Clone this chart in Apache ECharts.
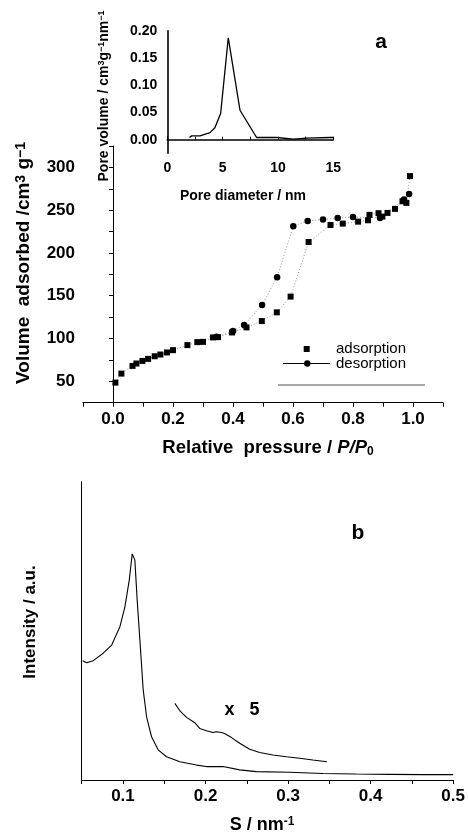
<!DOCTYPE html>
<html>
<head>
<meta charset="utf-8">
<script src="https://cdn.jsdelivr.net/npm/echarts@6/dist/echarts.min.js"></script>
<style>
html,body{margin:0;padding:0;background:#fff;}
#c{width:468px;height:836px;}
</style>
</head>
<body>
<div id="c"></div>
<script>
// Panel a: N2 isotherm
const adsP = [0.008,0.028,0.065,0.078,0.098,0.117,0.139,0.158,0.18,0.2,0.248,0.281,0.3,0.333,0.35,0.397,0.445,0.496,0.546,0.592,0.652,0.725,0.766,0.817,0.85,0.855,0.885,0.898,0.915,0.94,0.965,0.978,0.99];
const adsV = [48.5,59,68,70.8,73.8,76.2,79.3,81.3,83.7,86.4,92.3,95.8,96.1,101.3,101.6,107.1,113,120.4,130.6,149,212.8,232.7,234.3,236.6,238.2,244.5,246.5,242.5,246.8,251.5,260.4,258.5,289.8];
const desP = [0.345,0.4,0.437,0.497,0.547,0.601,0.649,0.7,0.749,0.8,0.89,0.97,0.987];
const desV = [102,108.7,115.7,139.3,171.7,231.3,237.4,239,240.8,242,241,262.4,268.8];
// Inset: pore size distribution
const poreD = [2.0,2.2,2.95,3.86,4.3,4.82,5.51,6.57,8.07,8.97,9.88,11.4,12.6,14.7,15.0];
const poreV = [0.004,0.007,0.007,0.013,0.022,0.048,0.187,0.054,0.004,0.004,0.004,0.001,0.003,0.004,0.004];
// Panel b: SAXS
const sMain = [0.0512,0.056,0.064,0.076,0.0863,0.0882,0.0963,0.1024,0.1076,0.1112,0.1144,0.1172,0.1205,0.1245,0.1286,0.1346,0.1426,0.1528,0.1689,0.189,0.2011,0.2212,0.2414,0.2616,0.3019,0.3422,0.3825,0.4228,0.4631,0.5];
const iMain = [40.0,39.3,40.0,42.5,45.2,46.4,51.4,58.1,67.0,75.8,73.7,60.3,46.9,30.2,21.2,14.5,10.1,7.8,6.1,5.0,4.5,4.5,3.4,2.8,2.6,2.2,2.0,1.9,1.8,1.8];
const sX5 = [0.1628,0.169,0.177,0.187,0.193,0.201,0.209,0.213,0.2193,0.223,0.231,0.2414,0.2535,0.2656,0.2817,0.2979,0.314,0.33,0.347];
const iX5 = [25.7,23.2,21.0,19.2,17.3,16.5,15.9,16.2,15.9,15.6,14.3,12.3,10.3,9.2,8.4,7.8,7.3,6.7,6.1];

const zip = (a,b) => a.map((v,i)=>[v,b[i]]);
const FF = '"Liberation Sans", Arial, sans-serif';
const axisLabelStyle = (size) => ({color:'#000', fontFamily:FF, fontWeight:'bold', fontSize:size});

const chart = echarts.init(document.getElementById('c'), null, {renderer:'canvas'});
chart.setOption({
  animation:false,
  backgroundColor:'#fff',
  grid:[
    {left:83, top:146, width:360, height:256.7},
    {left:167.3, top:30.7, width:166, height:122.6},
    {left:81.7, top:481.7, width:372.6, height:298.3}
  ],
  xAxis:[
    {gridIndex:0, type:'value', min:-0.1, max:1.1, interval:0.1,
     axisLine:{lineStyle:{color:'#000', width:1}}, axisTick:{inside:false, length:4, lineStyle:{color:'#000'}},
     splitLine:{show:false},
     axisLabel:Object.assign({margin:8, formatter:(v)=>{const k=Math.round(v*10);return (k>=0&&k<=10&&k%2===0)?(k/10).toFixed(1):'';}}, axisLabelStyle(17))},
    {gridIndex:1, type:'value', min:0, max:15, interval:2.5,
     axisLine:{lineStyle:{color:'#000', width:1.6}}, axisTick:{inside:true, length:3, lineStyle:{color:'#000'}},
     splitLine:{show:false},
     axisLabel:Object.assign({margin:8, formatter:(v)=>{const k=Math.round(v*10);return (k%50===0)?String(k/10):'';}}, axisLabelStyle(14))},
    {gridIndex:2, type:'value', min:0.05, max:0.5, interval:0.05,
     axisLine:{lineStyle:{color:'#000', width:1}}, axisTick:{inside:false, length:4, lineStyle:{color:'#000'}},
     splitLine:{show:false},
     axisLabel:Object.assign({margin:8, formatter:(v)=>{const k=Math.round(v*100);return (k%10===0)?(k/100).toFixed(1):'';}}, axisLabelStyle(17))}
  ],
  yAxis:[
    {gridIndex:0, type:'value', min:25, max:325, interval:25,
     axisLine:{show:true, lineStyle:{color:'#000', width:1}}, axisTick:{show:true, inside:false, length:4, lineStyle:{color:'#000'}},
     splitLine:{show:false},
     axisLabel:Object.assign({margin:8, formatter:(v)=>{const k=Math.round(v);return (k%50===0)?String(k):'';}}, axisLabelStyle(17))},
    {gridIndex:1, type:'value', min:-0.025, max:0.2, interval:0.025,
     axisLine:{show:true, lineStyle:{color:'#000', width:1.6}}, axisTick:{show:false},
     splitLine:{show:false},
     axisLabel:Object.assign({margin:10, formatter:(v)=>{const k=Math.round(v*1000);return (k>=0&&k%50===0)?(k/1000).toFixed(2):'';}}, axisLabelStyle(14))},
    {gridIndex:2, type:'value', min:0, max:100,
     axisLine:{show:true, lineStyle:{color:'#000', width:1}}, axisTick:{show:false},
     axisLabel:{show:false}, splitLine:{show:false}}
  ],
  series:[
    {name:'adsorption', type:'line', xAxisIndex:0, yAxisIndex:0, data:zip(adsP,adsV),
     symbol:'rect', symbolSize:6, showAllSymbol:true,
     itemStyle:{color:'#000'}, lineStyle:{color:'#999', width:1, type:[1,2]}},
    {name:'desorption', type:'line', xAxisIndex:0, yAxisIndex:0, data:zip(desP,desV),
     symbol:'circle', symbolSize:6.5, showAllSymbol:true,
     itemStyle:{color:'#000'}, lineStyle:{color:'#999', width:1, type:[1,2]}},
    {name:'pore', type:'line', xAxisIndex:1, yAxisIndex:1, data:zip(poreD,poreV),
     symbol:'none', lineStyle:{color:'#000', width:1.3}},
    {name:'saxs', type:'line', xAxisIndex:2, yAxisIndex:2, data:zip(sMain,iMain),
     symbol:'none', lineStyle:{color:'#000', width:1.1}},
    {name:'saxs x5', type:'line', xAxisIndex:2, yAxisIndex:2, data:zip(sX5,iX5),
     symbol:'none', lineStyle:{color:'#000', width:1.1}}
  ],
  graphic:[
    {type:'text', x:381, y:42, style:{text:'a', font:'bold 21px '+FF, fill:'#000', align:'center', verticalAlign:'middle'}},
    {type:'text', x:358, y:533, style:{text:'b', font:'bold 21px '+FF, fill:'#000', align:'center', verticalAlign:'middle'}},
    {type:'text', x:242, y:710, style:{text:'x   5', font:'bold 18px '+FF, fill:'#000', align:'center', verticalAlign:'middle'}},
    {type:'text', x:268, y:448, style:{
      text:'{b|Relative  pressure / }{i|P/P}{s|0}', fill:'#000', align:'center', verticalAlign:'middle',
      rich:{b:{font:'bold 18.5px '+FF, fill:'#000'}, i:{font:'italic bold 18.5px '+FF, fill:'#000'}, s:{font:'bold 12px '+FF, fill:'#000', verticalAlign:'bottom', padding:[7,0,0,0]}}}},
    {type:'text', x:24, y:263, rotation:Math.PI/2, style:{
      text:'{b|Volume  adsorbed /cm}{u|3}{b| g}{u|−1}', fill:'#000', align:'center', verticalAlign:'middle',
      rich:{b:{font:'bold 19px '+FF, fill:'#000'}, u:{font:'bold 14px '+FF, fill:'#000', verticalAlign:'top', padding:[0,0,4,0]}}}},
    {type:'text', x:243, y:196, style:{text:'Pore diameter / nm', font:'bold 14px '+FF, fill:'#000', align:'center', verticalAlign:'middle'}},
    {type:'text', x:104, y:96, rotation:Math.PI/2, style:{
      text:'{b|Pore volume / cm}{u|3}{b|g}{u|−1}{b|nm}{u|−1}', fill:'#000', align:'center', verticalAlign:'middle',
      rich:{b:{font:'bold 14px '+FF, fill:'#000'}, u:{font:'bold 9px '+FF, fill:'#000', verticalAlign:'top', padding:[0,0,4,0]}}}},
    {type:'text', x:30, y:622, rotation:Math.PI/2, style:{text:'Intensity / a.u.', font:'bold 17px '+FF, fill:'#000', align:'center', verticalAlign:'middle'}},
    {type:'text', x:262, y:825, style:{
      text:'{b|S / nm}{u|-1}', fill:'#000', align:'center', verticalAlign:'middle',
      rich:{b:{font:'bold 18px '+FF, fill:'#000'}, u:{font:'bold 12px '+FF, fill:'#000', verticalAlign:'top', padding:[0,0,5,0]}}}},
    // legend
    {type:'rect', shape:{x:303.7, y:346, width:6, height:6}, style:{fill:'#000'}},
    {type:'text', x:336, y:349, style:{text:'adsorption', font:'15px '+FF, fill:'#000', align:'left', verticalAlign:'middle'}},
    {type:'line', shape:{x1:283, y1:363.5, x2:330, y2:363.5}, style:{stroke:'#000', lineWidth:1}},
    {type:'circle', shape:{cx:307.3, cy:363.5, r:3.2}, style:{fill:'#000'}},
    {type:'text', x:336, y:363.5, style:{text:'desorption', font:'15px '+FF, fill:'#000', align:'left', verticalAlign:'middle'}},
    {type:'line', shape:{x1:278, y1:385, x2:425, y2:385}, style:{stroke:'#555', lineWidth:1}}
  ]
});
</script>
</body>
</html>
